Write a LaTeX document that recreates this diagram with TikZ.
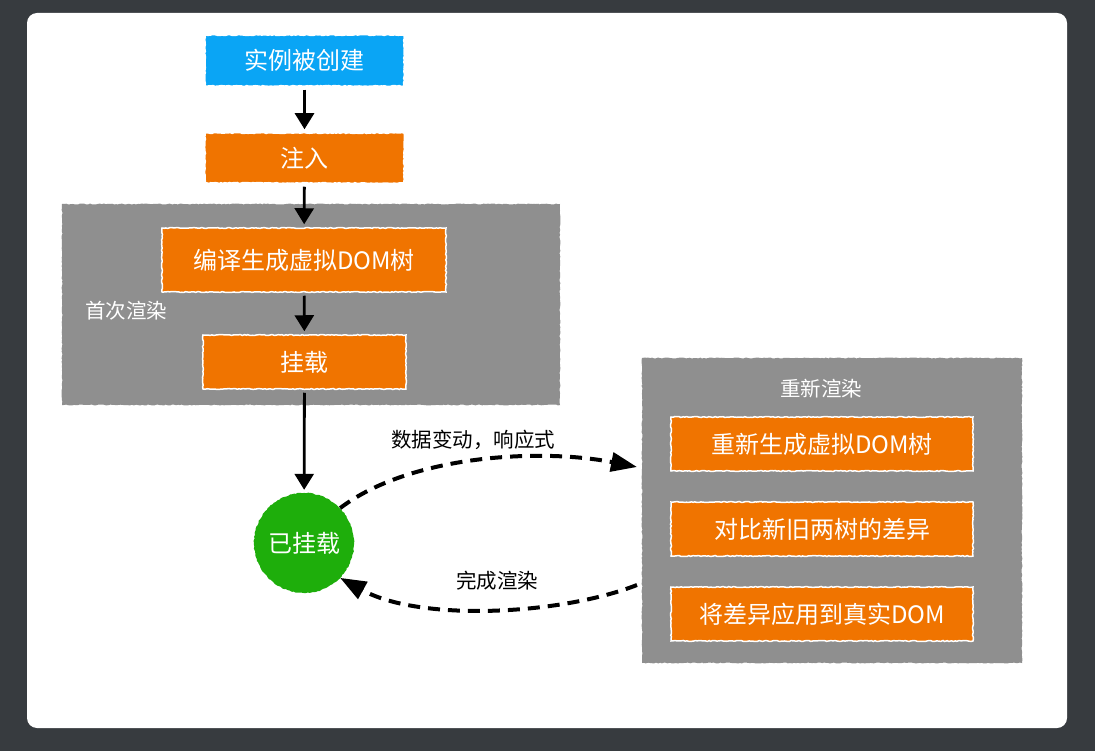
\documentclass[tikz,border=0pt]{standalone}
\usepackage{fontspec}
\newfontfamily\cjk{Noto Sans CJK SC}
\usepackage{tikz}
\usetikzlibrary{positioning, arrows.meta, decorations.pathmorphing}
\usepackage{xcolor}
\definecolor{pageBg}{RGB}{55, 59, 63}
\definecolor{stepBlue}{RGB}{10, 165, 245}
\definecolor{stepOrange}{RGB}{240, 116, 0}
\definecolor{groupGray}{RGB}{143, 143, 143}
\definecolor{doneGreen}{RGB}{30, 174, 11}

\tikzset{
  rough/.style={decorate, decoration={random steps, segment length=2pt, amplitude=0.5pt}},
  stepbox/.style={rough, draw=white, line width=1.5pt, fill=stepOrange, text=white,
                  font=\cjk\fontsize{24}{24}\selectfont, inner sep=0pt},
  groupbox/.style={rough, fill=groupGray, inner sep=0pt},
  grouplabel/.style={text=white, font=\cjk\fontsize{20.5}{20.5}\selectfont},
  edgelabel/.style={text=black, font=\cjk\fontsize{20.5}{20.5}\selectfont},
  flow/.style={line width=2.8pt, -{Triangle[width=19pt, length=16pt]}, shorten <=3pt, shorten >=3pt},
  react/.style={line width=4pt, dash pattern=on 12pt off 8pt, -{Triangle[width=19pt, length=26pt]}}
}

\begin{document}
\begin{tikzpicture}[x=1pt, y=-1pt]
  % --- Page ---
  \fill[pageBg] (0,0) rectangle (1095,751);
  \fill[white, rounded corners=10pt] (27,13) rectangle (1067,728);

  % --- First render ---
  \node[groupbox, minimum width=498pt, minimum height=201pt] (firstGroup) at (311,304.5) {};
  \node[grouplabel] (firstLabel) at (126,311) {首次渲染};
  \node[stepbox, fill=stepBlue, minimum width=199pt, minimum height=51pt] (create) at (304.5,60.5) {实例被创建};
  \node[stepbox, minimum width=199pt, minimum height=50pt] (inject) at (304.5,158) {注入};
  \node[stepbox, minimum width=284pt, minimum height=64pt] (compile) at (304,260) {编译生成虚拟DOM树};
  \node[stepbox, minimum width=203pt, minimum height=54pt] (mount) at (304.5,362) {挂载};
  \node[rough, circle, fill=doneGreen, minimum size=100pt, inner sep=0pt, text=white,
        font=\cjk\fontsize{24}{24}\selectfont] (mounted) at (304,543) {已挂载};

  \draw[flow] (create) -- (inject);
  \draw[flow] (inject) -- (compile);
  \draw[flow] (compile) -- (mount);
  \draw[flow] (mount) -- (mounted);

  % --- Re-render ---
  \node[groupbox, minimum width=380pt, minimum height=305pt] (reGroup) at (832,510.5) {};
  \node[grouplabel] (reLabel) at (821,389) {重新渲染};
  \node[stepbox, minimum width=302pt, minimum height=54pt] (regen) at (822,444) {重新生成虚拟DOM树};
  \node[stepbox, minimum width=302pt, minimum height=54pt] (diff) at (822,529) {对比新旧两树的差异};
  \node[stepbox, minimum width=302pt, minimum height=54pt] (patch) at (822,614) {将差异应用到真实DOM};

  % dashed loop between the two
  \coordinate (reIn) at (637,467);
  \coordinate (reOut) at (637,585);
  \draw[react] (mounted.44) .. controls (410,455) and (540,448) .. (reIn);
  \draw[react] (reOut) .. controls (560,615) and (420,622) .. (mounted.-44);
  \node[edgelabel] (changeLabel) at (473,440) {数据变动，响应式};
  \node[edgelabel] (doneLabel) at (497,581) {完成渲染};
\end{tikzpicture}
\end{document}
